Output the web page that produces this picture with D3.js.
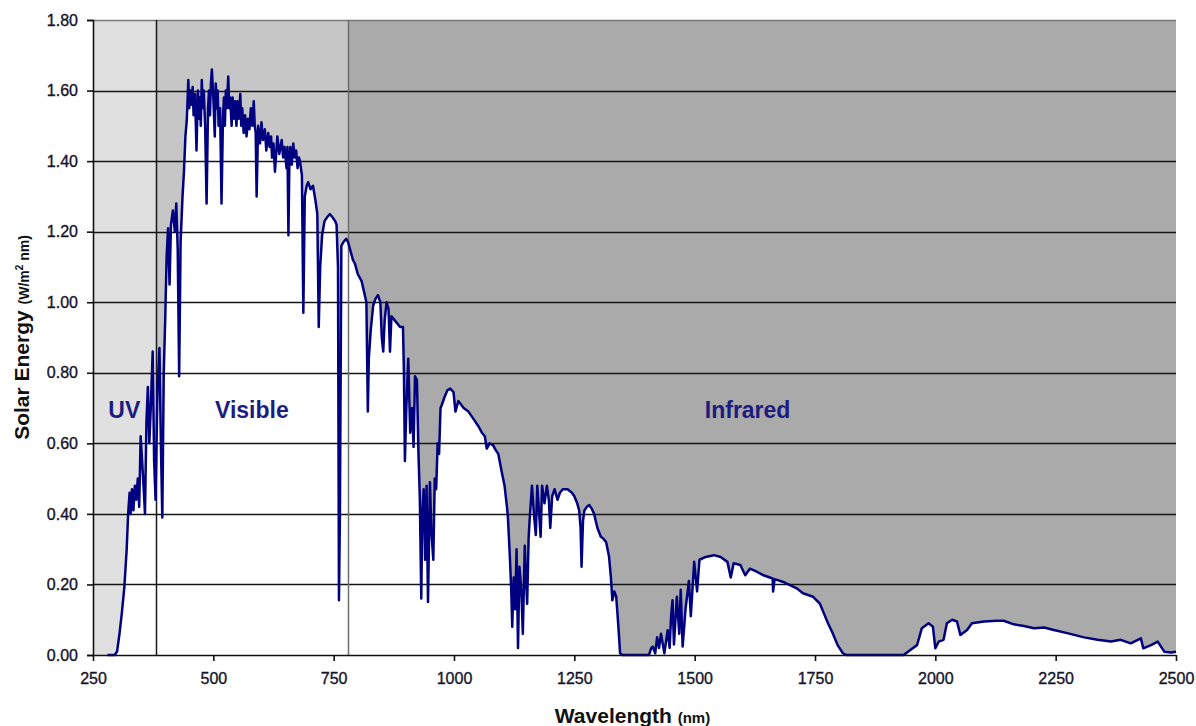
<!DOCTYPE html>
<html>
<head>
<meta charset="utf-8">
<script src="https://cdn.jsdelivr.net/npm/d3@7"></script>
<style>
  body { margin: 0; background: #fff; }
  text { font-family: "Liberation Sans", Arial, sans-serif; }
</style>
</head>
<body>
<script>
// Spectrum data (nm, W/m2 nm), 10 per row
const wavelengthNm = [
  280, 295, 300, 305, 310, 315, 320, 323, 326, 328,
  331, 334, 337, 340, 343, 346, 349, 352, 355, 358,
  361, 364, 367, 370, 374, 377, 380, 384, 388, 391,
  394, 397, 400, 403, 406, 409, 412, 416, 420, 423,
  426, 429, 432, 436, 439, 442, 445, 448, 450, 452,
  455, 457, 459, 462, 465, 468, 470, 472, 474, 476,
  478, 480, 483, 486, 489, 491, 493, 495, 497, 500,
  503, 505, 507, 509, 511, 514, 517, 520, 522, 524,
  526, 528, 531, 533, 535, 538, 540, 543, 545, 548,
  550, 553, 556, 558, 560, 563, 566, 569, 572, 575,
  578, 581, 584, 586, 588, 590, 593, 597, 600, 603,
  607, 610, 614, 617, 620, 622, 625, 628, 633, 637,
  642, 645, 648, 652, 654, 656, 658, 660, 663, 666,
  669, 672, 675, 678, 680, 684, 687, 690, 694, 697,
  702, 707, 712, 716, 719, 722, 726, 731, 736, 742,
  748, 753, 756, 759, 761, 763, 766, 770, 776, 780,
  786, 790, 794, 800, 808, 813, 818, 821, 823, 827,
  832, 837, 842, 847, 850, 853, 856, 860, 864, 867,
  870, 876, 882, 888, 894, 896, 898, 901, 905, 909,
  913, 916, 919, 923, 926, 929, 932, 934, 937, 940,
  943, 946, 950, 953, 957, 960, 963, 966, 969, 972,
  975, 980, 986, 992, 999, 1003, 1009, 1020, 1030, 1040,
  1050, 1058, 1064, 1068, 1074, 1081, 1087, 1092, 1099, 1105,
  1110, 1112, 1116, 1119, 1121, 1124, 1127, 1130, 1133, 1136,
  1140, 1143, 1147, 1150, 1152, 1155, 1157, 1162, 1166, 1170,
  1173, 1176, 1180, 1183, 1188, 1193, 1197, 1200, 1204, 1209,
  1215, 1220, 1226, 1236, 1245, 1250, 1256, 1260, 1263, 1265,
  1268, 1271, 1276, 1281, 1286, 1291, 1298, 1305, 1310, 1316,
  1322, 1326, 1329, 1333, 1337, 1340, 1343, 1345, 1350, 1405,
  1410, 1413, 1418, 1422, 1426, 1430, 1437, 1444, 1448, 1451,
  1454, 1457, 1463, 1468, 1471, 1475, 1481, 1488, 1492, 1499,
  1505, 1510, 1523, 1540, 1554, 1568, 1575, 1581, 1595, 1605,
  1615, 1629, 1643, 1662, 1663, 1666, 1684, 1698, 1712, 1725,
  1746, 1760, 1767, 1777, 1787, 1797, 1808, 1815, 1934, 1948,
  1962, 1972, 1986, 1995, 2000, 2007, 2017, 2024, 2035, 2045,
  2052, 2066, 2076, 2101, 2128, 2142, 2163, 2184, 2205, 2226,
  2246, 2274, 2309, 2337, 2365, 2385, 2406, 2427, 2432, 2448,
  2462, 2476, 2490, 2500
];
const irradiance = [
  0, 0, 0.01, 0.06, 0.12, 0.19, 0.30, 0.40, 0.46, 0.40,
  0.47, 0.41, 0.48, 0.44, 0.50, 0.42, 0.62, 0.55, 0.48, 0.40,
  0.66, 0.76, 0.60, 0.70, 0.86, 0.55, 0.44, 0.75, 0.87, 0.60,
  0.39, 0.80, 0.95, 1.13, 1.21, 1.05, 1.22, 1.26, 1.20, 1.28,
  1.15, 0.79, 1.17, 1.30, 1.37, 1.47, 1.52, 1.63, 1.55, 1.60,
  1.56, 1.61, 1.53, 1.59, 1.43, 1.60, 1.52, 1.58, 1.50, 1.63,
  1.55, 1.60, 1.50, 1.28, 1.55, 1.60, 1.53, 1.62, 1.66, 1.58,
  1.47, 1.62, 1.55, 1.60, 1.50, 1.55, 1.28, 1.52, 1.58, 1.50,
  1.60, 1.55, 1.64, 1.55, 1.58, 1.50, 1.58, 1.52, 1.57, 1.50,
  1.57, 1.52, 1.59, 1.50, 1.55, 1.48, 1.53, 1.47, 1.52, 1.49,
  1.55, 1.50, 1.57, 1.50, 1.48, 1.30, 1.50, 1.45, 1.51, 1.46,
  1.49, 1.43, 1.48, 1.44, 1.47, 1.41, 1.45, 1.37, 1.47, 1.42,
  1.46, 1.41, 1.44, 1.38, 1.44, 1.19, 1.40, 1.44, 1.39, 1.45,
  1.41, 1.43, 1.38, 1.41, 1.40, 1.36, 0.97, 1.30, 1.33, 1.34,
  1.32, 1.33, 1.29, 1.25, 0.93, 1.10, 1.19, 1.23, 1.24, 1.25,
  1.24, 1.23, 1.22, 1.10, 0.155, 0.40, 1.16, 1.17, 1.18, 1.17,
  1.14, 1.12, 1.11, 1.08, 1.06, 1.03, 1.00, 0.69, 0.84, 0.92,
  0.99, 1.01, 1.02, 1.00, 0.90, 0.86, 0.95, 1.00, 0.98, 0.86,
  0.96, 0.95, 0.94, 0.93, 0.93, 0.80, 0.55, 0.70, 0.84, 0.63,
  0.70, 0.59, 0.79, 0.78, 0.58, 0.445, 0.16, 0.40, 0.47, 0.27,
  0.48, 0.15, 0.49, 0.35, 0.27, 0.50, 0.47, 0.60, 0.57, 0.70,
  0.71, 0.73, 0.75, 0.755, 0.745, 0.69, 0.72, 0.70, 0.69, 0.67,
  0.65, 0.63, 0.62, 0.585, 0.60, 0.595, 0.58, 0.57, 0.52, 0.48,
  0.42, 0.39, 0.28, 0.18, 0.08, 0.22, 0.13, 0.30, 0.02, 0.25,
  0.18, 0.06, 0.31, 0.20, 0.145, 0.33, 0.38, 0.48, 0.40, 0.34,
  0.48, 0.42, 0.335, 0.48, 0.43, 0.48, 0.44, 0.36, 0.45, 0.47,
  0.44, 0.46, 0.47, 0.47, 0.46, 0.45, 0.43, 0.41, 0.36, 0.25,
  0.38, 0.41, 0.42, 0.425, 0.415, 0.40, 0.36, 0.335, 0.33, 0.32,
  0.28, 0.22, 0.155, 0.18, 0.165, 0.11, 0.05, 0.005, 0, 0,
  0.02, 0.024, 0.005, 0.05, 0.02, 0.06, 0.005, 0.07, 0.02, 0.11,
  0.155, 0.03, 0.165, 0.06, 0.185, 0.024, 0.13, 0.21, 0.11, 0.264,
  0.18, 0.27, 0.278, 0.283, 0.278, 0.264, 0.22, 0.26, 0.255, 0.226,
  0.245, 0.236, 0.226, 0.217, 0.18, 0.215, 0.207, 0.198, 0.189, 0.175,
  0.165, 0.146, 0.123, 0.09, 0.061, 0.028, 0.005, 0, 0, 0.014,
  0.028, 0.076, 0.09, 0.08, 0.019, 0.038, 0.043, 0.09, 0.10, 0.095,
  0.057, 0.071, 0.09, 0.095, 0.097, 0.097, 0.087, 0.082, 0.076, 0.078,
  0.071, 0.062, 0.05, 0.043, 0.038, 0.043, 0.033, 0.047, 0.019, 0.028,
  0.038, 0.009, 0.007, 0.009
];

// Bands
const bandNames = ["UV", "Visible", "Infrared"];
const bandStart = [250, 380, 780];
const bandEnd = [380, 780, 2500];
const bandColors = ["#e0e0e0", "#c6c6c6", "#aaaaaa"];

// Ticks
const xTicks = [250, 500, 750, 1000, 1250, 1500, 1750, 2000, 2250, 2500];
const yTicks = [0, 0.2, 0.4, 0.6, 0.8, 1.0, 1.2, 1.4, 1.6, 1.8];

// Canvas config
const config = {
  width: 1196,
  height: 726,
  margin: { top: 20, right: 20, bottom: 71, left: 93 }
};
const innerW = config.width - config.margin.left - config.margin.right;
const innerH = config.height - config.margin.top - config.margin.bottom;

const svg = d3
  .select("body")
  .append("svg")
  .attr("width", config.width)
  .attr("height", config.height);

const g = svg
  .append("g")
  .attr("transform", `translate(${config.margin.left},${config.margin.top})`);

const x = d3.scaleLinear().domain([250, 2500]).range([0, innerW]);
const y = d3.scaleLinear().domain([0, 1.8]).range([innerH, 0]);

const points = wavelengthNm.map((w, i) => ({ w: w, v: irradiance[i] }));

// Band backgrounds
g.selectAll(".band")
  .data(bandNames)
  .enter()
  .append("rect")
  .attr("class", "band")
  .attr("x", (d, i) => x(bandStart[i]))
  .attr("y", 0)
  .attr("width", (d, i) => x(bandEnd[i]) - x(bandStart[i]))
  .attr("height", innerH)
  .attr("fill", (d, i) => bandColors[i]);

// White area under the spectrum
g.append("path")
  .datum(points)
  .attr("fill", "#fff")
  .attr("d", d3.area().x(d => x(d.w)).y0(y(0)).y1(d => y(d.v)));

// Gridlines
g.selectAll(".grid")
  .data(yTicks.filter(t => t > 0))
  .enter()
  .append("line")
  .attr("class", "grid")
  .attr("x1", 0)
  .attr("x2", innerW)
  .attr("y1", d => Math.round(y(d)) + 0.5)
  .attr("y2", d => Math.round(y(d)) + 0.5)
  .attr("stroke", d => (d === 1.8 ? "#7a7a7a" : "#151515"))
  .attr("stroke-width", 1.4);

// Band dividers
g.selectAll(".divider")
  .data(bandStart.slice(1))
  .enter()
  .append("line")
  .attr("class", "divider")
  .attr("x1", d => Math.round(x(d)) + 0.5)
  .attr("x2", d => Math.round(x(d)) + 0.5)
  .attr("y1", 0)
  .attr("y2", innerH)
  .attr("stroke", (d, i) => (i === 0 ? "#1a1a1a" : "#6e6e6e"))
  .attr("stroke-width", 1.5);

// Spectrum line
g.append("path")
  .datum(points)
  .attr("fill", "none")
  .attr("stroke", "#000080")
  .attr("stroke-width", 2.5)
  .attr("stroke-linejoin", "round")
  .attr("d", d3.line().x(d => x(d.w)).y(d => y(d.v)));

// Band labels
g.selectAll(".band-label")
  .data(bandNames)
  .enter()
  .append("text")
  .attr("class", "band-label")
  .attr("x", (d, i) => x((bandStart[i] + bandEnd[i]) / 2 - (i === 2 ? 30 : 0)))
  .attr("y", y(0.672))
  .attr("text-anchor", "middle")
  .attr("font-size", 23)
  .attr("font-weight", "bold")
  .attr("fill", "#1c1c80")
  .text(d => d);

// Axes
const xAxis = d3.axisBottom(x).tickValues(xTicks).tickSize(6).tickFormat(d3.format("d"));
const yAxis = d3.axisLeft(y).tickValues(yTicks).tickSize(6).tickFormat(d3.format(".2f"));

const gx = g.append("g").attr("transform", `translate(0,${innerH})`).call(xAxis);
const gy = g.append("g").call(yAxis);

[gx, gy].forEach(a => {
  a.select(".domain").attr("stroke", "#111").attr("stroke-width", 1.6);
  a.selectAll(".tick line").attr("stroke", "#111").attr("stroke-width", 1.6);
  a.selectAll(".tick text")
    .attr("font-size", 16)
    .attr("font-family", "Liberation Sans, Arial, sans-serif")
    .attr("fill", "#14142a")
    .attr("stroke", "#14142a")
    .attr("stroke-width", 0.35);
});
gx.select(".domain").attr("d", `M0,0.5H${innerW}`);
gx.selectAll(".tick text").attr("dy", "1.25em");
gy.selectAll(".tick text").attr("x", -15);

// Axis titles
const yTitle = svg
  .append("text")
  .attr("transform", `translate(29,${config.margin.top + innerH / 2}) rotate(-90)`)
  .attr("text-anchor", "middle")
  .attr("font-weight", "bold")
  .attr("fill", "#111");
yTitle.append("tspan").attr("font-size", 21).text("Solar Energy ");
yTitle.append("tspan").attr("font-size", 14).text("(W/m");
yTitle.append("tspan").attr("font-size", 10).attr("dy", -6).text("2");
yTitle.append("tspan").attr("font-size", 14).attr("dy", 6).text(" nm)");

const xTitle = svg
  .append("text")
  .attr("x", config.margin.left + innerW / 2 - 2)
  .attr("y", 723)
  .attr("text-anchor", "middle")
  .attr("font-weight", "bold")
  .attr("fill", "#111");
xTitle.append("tspan").attr("font-size", 21).text("Wavelength ");
xTitle.append("tspan").attr("font-size", 15).text("(nm)");
</script>
</body>
</html>
